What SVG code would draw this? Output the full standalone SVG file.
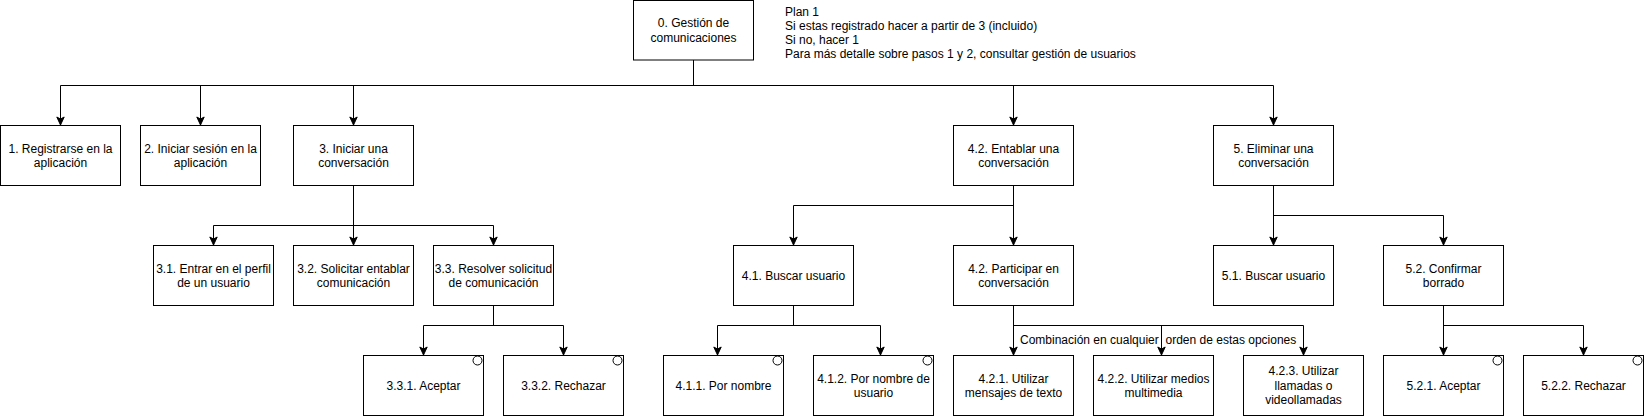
<svg xmlns="http://www.w3.org/2000/svg" width="1644" height="416" viewBox="0 0 1644 416">
<style>
.box{fill:#fff;stroke:#000;stroke-width:1}
.t{font-family:"Liberation Sans",Arial,Helvetica,sans-serif;font-size:12px;fill:#000;text-anchor:middle}
.tl{font-family:"Liberation Sans",Arial,Helvetica,sans-serif;font-size:12px;fill:#000;text-anchor:start}
.c{fill:none;stroke:#000;stroke-width:1}
.a{fill:none;stroke:#000;stroke-width:1;marker-end:url(#arr)}
.dot{fill:#fff;stroke:#000;stroke-width:1}
</style>
<defs>
<marker id="arr" markerUnits="userSpaceOnUse" markerWidth="10" markerHeight="10" viewBox="-9 -5 10 10" refX="0" refY="0" orient="auto">
<path d="M0,0 L-8,-3.7 L-6,0 L-8,3.7 Z" fill="#000" stroke="#000" stroke-width="1" stroke-linejoin="miter"/>
</marker>
</defs>
<rect width="1644" height="416" fill="#fff"/>

<g id="connectors">
<path class="c" d="M693.5,60 V85.5"/>
<path class="c" d="M60.5,85.5 H1273.5"/>
<path class="a" d="M60.5,85.5 V125"/>
<path class="a" d="M200.5,85.5 V125"/>
<path class="a" d="M353.5,85.5 V125"/>
<path class="a" d="M1013.5,85.5 V125"/>
<path class="a" d="M1273.5,85.5 V125"/>

<path class="a" d="M353.5,185.5 V245"/>
<path class="c" d="M213.5,225.5 H493.5"/>
<path class="a" d="M213.5,225.5 V245"/>
<path class="a" d="M493.5,225.5 V245"/>

<path class="c" d="M493.5,305.5 V325.5 M423.5,325.5 H563.5"/>
<path class="a" d="M423.5,325.5 V355"/>
<path class="a" d="M563.5,325.5 V355"/>

<path class="a" d="M1013.5,185.5 V245"/>
<path class="c" d="M793.5,205.5 H1013.5"/>
<path class="a" d="M793.5,205.5 V245"/>

<path class="c" d="M793.5,305.5 V325.5 M717.5,325.5 H880.5"/>
<path class="a" d="M717.5,325.5 V355"/>
<path class="a" d="M880.5,325.5 V355"/>

<path class="a" d="M1013.5,305.5 V355"/>
<path class="c" d="M1013.5,325.5 H1303.5"/>
<path class="a" d="M1161.5,325.5 V355"/>
<path class="a" d="M1303.5,325.5 V355"/>
<text class="tl" x="1020" y="344">Combinación en cualquier <tspan x="1165.5">orden de estas opciones</tspan></text>

<path class="a" d="M1273.5,185.5 V245"/>
<path class="c" d="M1273.5,215.5 H1443.5"/>
<path class="a" d="M1443.5,215.5 V245"/>

<path class="a" d="M1443.5,305.5 V355"/>
<path class="c" d="M1443.5,325.5 H1583.5"/>
<path class="a" d="M1583.5,325.5 V355"/>
</g>

<g id="n0"><rect class="box" x="633.5" y="0.5" width="120" height="59.5"/><text class="t" x="693.5" y="27">0. Gestión de</text><text class="t" x="693.5" y="41.5">comunicaciones</text></g>
<g id="plan"><text class="tl" x="785" y="15.5">Plan 1</text><text class="tl" x="785" y="29.5">Si estas registrado hacer a partir de 3 (incluido)</text><text class="tl" x="785" y="43.5">Si no, hacer 1</text><text class="tl" x="785" y="57.5">Para más detalle sobre pasos 1 y 2, consultar gestión de usuarios</text></g>

<g id="n1"><rect class="box" x="0.5" y="125.5" width="120" height="60"/><text class="t" x="60.5" y="152.5">1. Registrarse en la</text><text class="t" x="60.5" y="167">aplicación</text></g>
<g id="n2"><rect class="box" x="140.5" y="125.5" width="120" height="60"/><text class="t" x="200.5" y="152.5">2. Iniciar sesión en la</text><text class="t" x="200.5" y="167">aplicación</text></g>
<g id="n3"><rect class="box" x="293.5" y="125.5" width="120" height="60"/><text class="t" x="353.5" y="152.5">3. Iniciar una</text><text class="t" x="353.5" y="167">conversación</text></g>
<g id="n4"><rect class="box" x="953.5" y="125.5" width="120" height="60"/><text class="t" x="1013.5" y="152.5">4.2. Entablar una</text><text class="t" x="1013.5" y="167">conversación</text></g>
<g id="n5"><rect class="box" x="1213.5" y="125.5" width="120" height="60"/><text class="t" x="1273.5" y="152.5">5. Eliminar una</text><text class="t" x="1273.5" y="167">conversación</text></g>

<g id="n31"><rect class="box" x="153.5" y="245.5" width="120" height="60"/><text class="t" x="213.5" y="272.5">3.1. Entrar en el perfil</text><text class="t" x="213.5" y="287">de un usuario</text></g>
<g id="n32"><rect class="box" x="293.5" y="245.5" width="120" height="60"/><text class="t" x="353.5" y="272.5">3.2. Solicitar entablar</text><text class="t" x="353.5" y="287">comunicación</text></g>
<g id="n33"><rect class="box" x="433.5" y="245.5" width="120" height="60"/><text class="t" x="493.5" y="272.5">3.3. Resolver solicitud</text><text class="t" x="493.5" y="287">de comunicación</text></g>
<g id="n41"><rect class="box" x="733.5" y="245.5" width="120" height="60"/><text class="t" x="793.5" y="279.8">4.1. Buscar usuario</text></g>
<g id="n42"><rect class="box" x="953.5" y="245.5" width="120" height="60"/><text class="t" x="1013.5" y="272.5">4.2. Participar en</text><text class="t" x="1013.5" y="287">conversación</text></g>
<g id="n51"><rect class="box" x="1213.5" y="245.5" width="120" height="60"/><text class="t" x="1273.5" y="279.8">5.1. Buscar usuario</text></g>
<g id="n52"><rect class="box" x="1383.5" y="245.5" width="120" height="60"/><text class="t" x="1443.5" y="272.5">5.2. Confirmar</text><text class="t" x="1443.5" y="287">borrado</text></g>

<g id="n331"><rect class="box" x="363.5" y="355.5" width="120" height="60"/><circle class="dot" cx="477.5" cy="360.5" r="4.5"/><text class="t" x="423.5" y="389.8">3.3.1. Aceptar</text></g>
<g id="n332"><rect class="box" x="503.5" y="355.5" width="120" height="60"/><circle class="dot" cx="617.5" cy="360.5" r="4.5"/><text class="t" x="563.5" y="389.8">3.3.2. Rechazar</text></g>
<g id="n411"><rect class="box" x="663.5" y="355.5" width="120" height="60"/><circle class="dot" cx="777.5" cy="360.5" r="4.5"/><text class="t" x="723.5" y="389.8">4.1.1. Por nombre</text></g>
<g id="n412"><rect class="box" x="813.5" y="355.5" width="120" height="60"/><circle class="dot" cx="927.5" cy="360.5" r="4.5"/><text class="t" x="873.5" y="382.5">4.1.2. Por nombre de</text><text class="t" x="873.5" y="397">usuario</text></g>
<g id="n421"><rect class="box" x="953.5" y="355.5" width="120" height="60"/><text class="t" x="1013.5" y="382.5">4.2.1. Utilizar</text><text class="t" x="1013.5" y="397">mensajes de texto</text></g>
<g id="n422"><rect class="box" x="1093.5" y="355.5" width="120" height="60"/><text class="t" x="1153.5" y="382.5">4.2.2. Utilizar medios</text><text class="t" x="1153.5" y="397">multimedia</text></g>
<g id="n423"><rect class="box" x="1243.5" y="355.5" width="120" height="60"/><text class="t" x="1303.5" y="375.3">4.2.3. Utilizar</text><text class="t" x="1303.5" y="389.7">llamadas o</text><text class="t" x="1303.5" y="404.1">videollamadas</text></g>
<g id="n521"><rect class="box" x="1383.5" y="355.5" width="120" height="60"/><circle class="dot" cx="1497.5" cy="360.5" r="4.5"/><text class="t" x="1443.5" y="389.8">5.2.1. Aceptar</text></g>
<g id="n522"><rect class="box" x="1523.5" y="355.5" width="120" height="60"/><circle class="dot" cx="1637.5" cy="360.5" r="4.5"/><text class="t" x="1583.5" y="389.8">5.2.2. Rechazar</text></g>
</svg>
